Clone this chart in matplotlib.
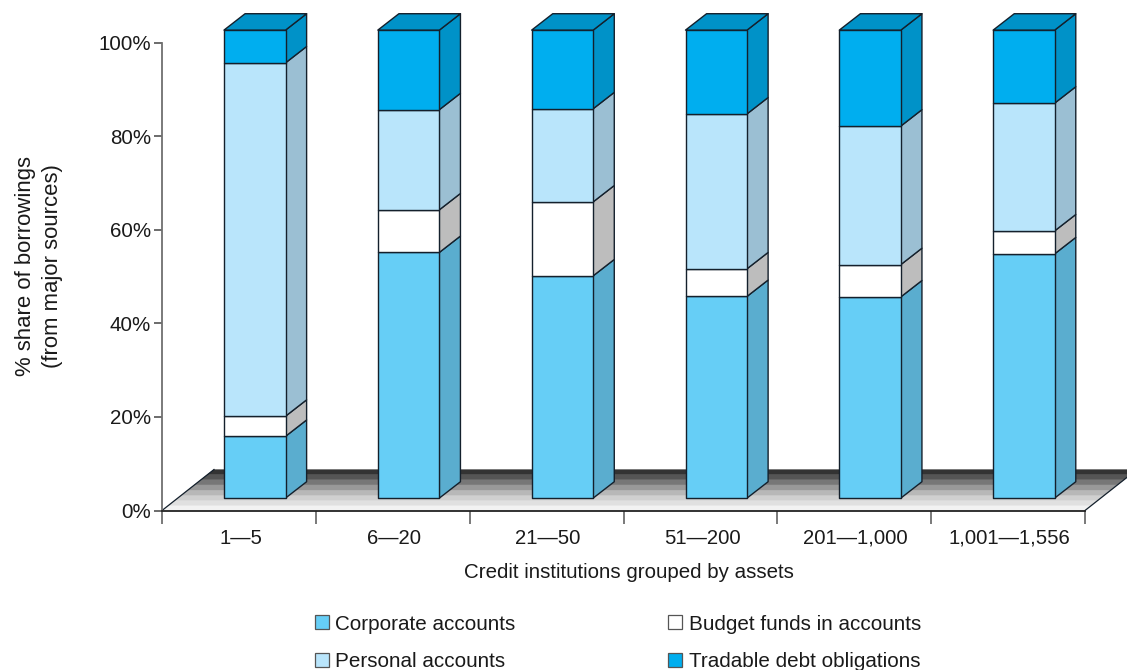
import matplotlib
matplotlib.use('Agg')
from matplotlib import pyplot as plt
from matplotlib.patches import Polygon, Patch

plt.rcParams['font.family'] = ['Liberation Sans', 'DejaVu Sans']

groups = ['1—5', '6—20', '21—50', '51—200', '201—1,000', '1,001—1,556']
series = ['Corporate accounts', 'Budget funds in accounts', 'Personal accounts', 'Tradable debt obligations']
corporate = [13.2, 52.5, 47.5, 43.1, 43.0, 52.2]
budget = [4.3, 9.1, 15.8, 5.9, 6.9, 4.9]
personal = [75.5, 21.4, 19.9, 33.1, 29.6, 27.3]
tradable = [7.0, 17.0, 16.8, 17.9, 20.5, 15.6]

front_colors = ['#66CEF6', '#FFFFFF', '#B9E5FB', '#00AEEF']
side_colors = ['#5AADCF', '#BDBDBD', '#9BBFD3', '#0092C8']
top_color = '#0092C8'
edge = '#14202c'
text_color = '#1a1a1a'
floor_bands = ['#F2F2F2', '#E0E0E0', '#D0D0D0', '#B8B8B8', '#999999', '#777777', '#555555', '#333333']

# 3d offsets, x in categories and y in percent
bar_w = 0.4
bar_shift = -0.5 + 62 / 153.83  # front left edge relative to category centre
depth_x, depth_y = 0.137, 3.5
base_y = 2.65
floor_x, floor_y = 0.338, 8.76
font = 14.8


def poly(ax, pts, fc, ec=edge, lw=1.0, z=3):
    ax.add_patch(Polygon(pts, closed=True, facecolor=fc, edgecolor=ec, linewidth=lw,
                         zorder=z, clip_on=False, joinstyle='round'))


fig = plt.figure(figsize=(11.27, 6.7), dpi=100)
ax = fig.add_axes([162 / 1127, 1 - 510.5 / 670, 923 / 1127, 468 / 670])
ax.set_xlim(-0.5, 5.5)
ax.set_ylim(0, 100)

# floor
n = len(floor_bands)
x0, x1 = -0.5, 5.5
for i, c in enumerate(floor_bands):
    t0, t1 = i / n, (i + 1) / n
    poly(ax, [(x0 + floor_x * t0, floor_y * t0), (x1 + floor_x * t0, floor_y * t0),
              (x1 + floor_x * t1, floor_y * t1), (x0 + floor_x * t1, floor_y * t1)],
         c, ec=c, lw=0.2, z=1)
ax.plot([x0, x0 + floor_x], [0, floor_y], color=edge, lw=0.9, zorder=2, clip_on=False)
ax.plot([x1, x1 + floor_x], [0, floor_y], color=edge, lw=0.9, zorder=2, clip_on=False)

# bars
stack = [corporate, budget, personal, tradable]
for i in range(len(groups)):
    left = i + bar_shift
    right = left + bar_w
    bottom = base_y
    for vals, fc, sc in zip(stack, front_colors, side_colors):
        top = bottom + vals[i]
        poly(ax, [(right, bottom), (right + depth_x, bottom + depth_y),
                  (right + depth_x, top + depth_y), (right, top)], sc)
        poly(ax, [(left, bottom), (right, bottom), (right, top), (left, top)], fc)
        bottom = top
    poly(ax, [(left, bottom), (right, bottom), (right + depth_x, bottom + depth_y),
              (left + depth_x, bottom + depth_y)], top_color)

for s in ['top', 'right']:
    ax.spines[s].set_visible(False)
ax.spines['left'].set_color('#707070')
ax.spines['left'].set_linewidth(1.3)
ax.spines['bottom'].set_color('#222222')
ax.spines['bottom'].set_linewidth(1.3)
ax.spines['bottom'].set_zorder(5)

ax.set_yticks(range(0, 101, 20))
ax.set_yticklabels([f'{v}%' for v in range(0, 101, 20)])
ax.tick_params(axis='y', length=6, width=1.1, color='#444444', labelsize=font, pad=2, labelcolor=text_color)
ax.set_xticks([v - 0.5 for v in range(7)])
ax.set_xticklabels([])
ax.tick_params(axis='x', length=9, width=1.1, color='#555555')
ax.set_xticks([v + 0.01 for v in range(6)], minor=True)
ax.set_xticklabels(groups, minor=True, fontsize=14.6, color=text_color, va='baseline')
ax.tick_params(axis='x', which='minor', length=0, pad=23.8)

fig.text(629 / 1127, 1 - 573 / 670, 'Credit institutions grouped by assets', ha='center', va='center',
         fontsize=font, color=text_color)
fig.text(39 / 1127, 1 - 266 / 670, '% share of borrowings\n(from major sources)', rotation=90, ha='center',
         va='center', fontsize=15.9, color=text_color, linespacing=1.4)

# legend, column order follows the reference layout
order = [0, 2, 1, 3]
handles = [Patch(facecolor=front_colors[k], edgecolor='#555555', linewidth=0.9, label=series[k]) for k in order]
fig.legend(handles=handles, ncol=2, frameon=False, fontsize=14.9, handlelength=0.67, handleheight=0.67,
           handletextpad=0.3, columnspacing=7.4, labelspacing=0.9, loc='lower left', borderpad=0,
           borderaxespad=0, bbox_to_anchor=(315 / 1127, -0.002), labelcolor=text_color)

fig.savefig('out.png', dpi=100)
